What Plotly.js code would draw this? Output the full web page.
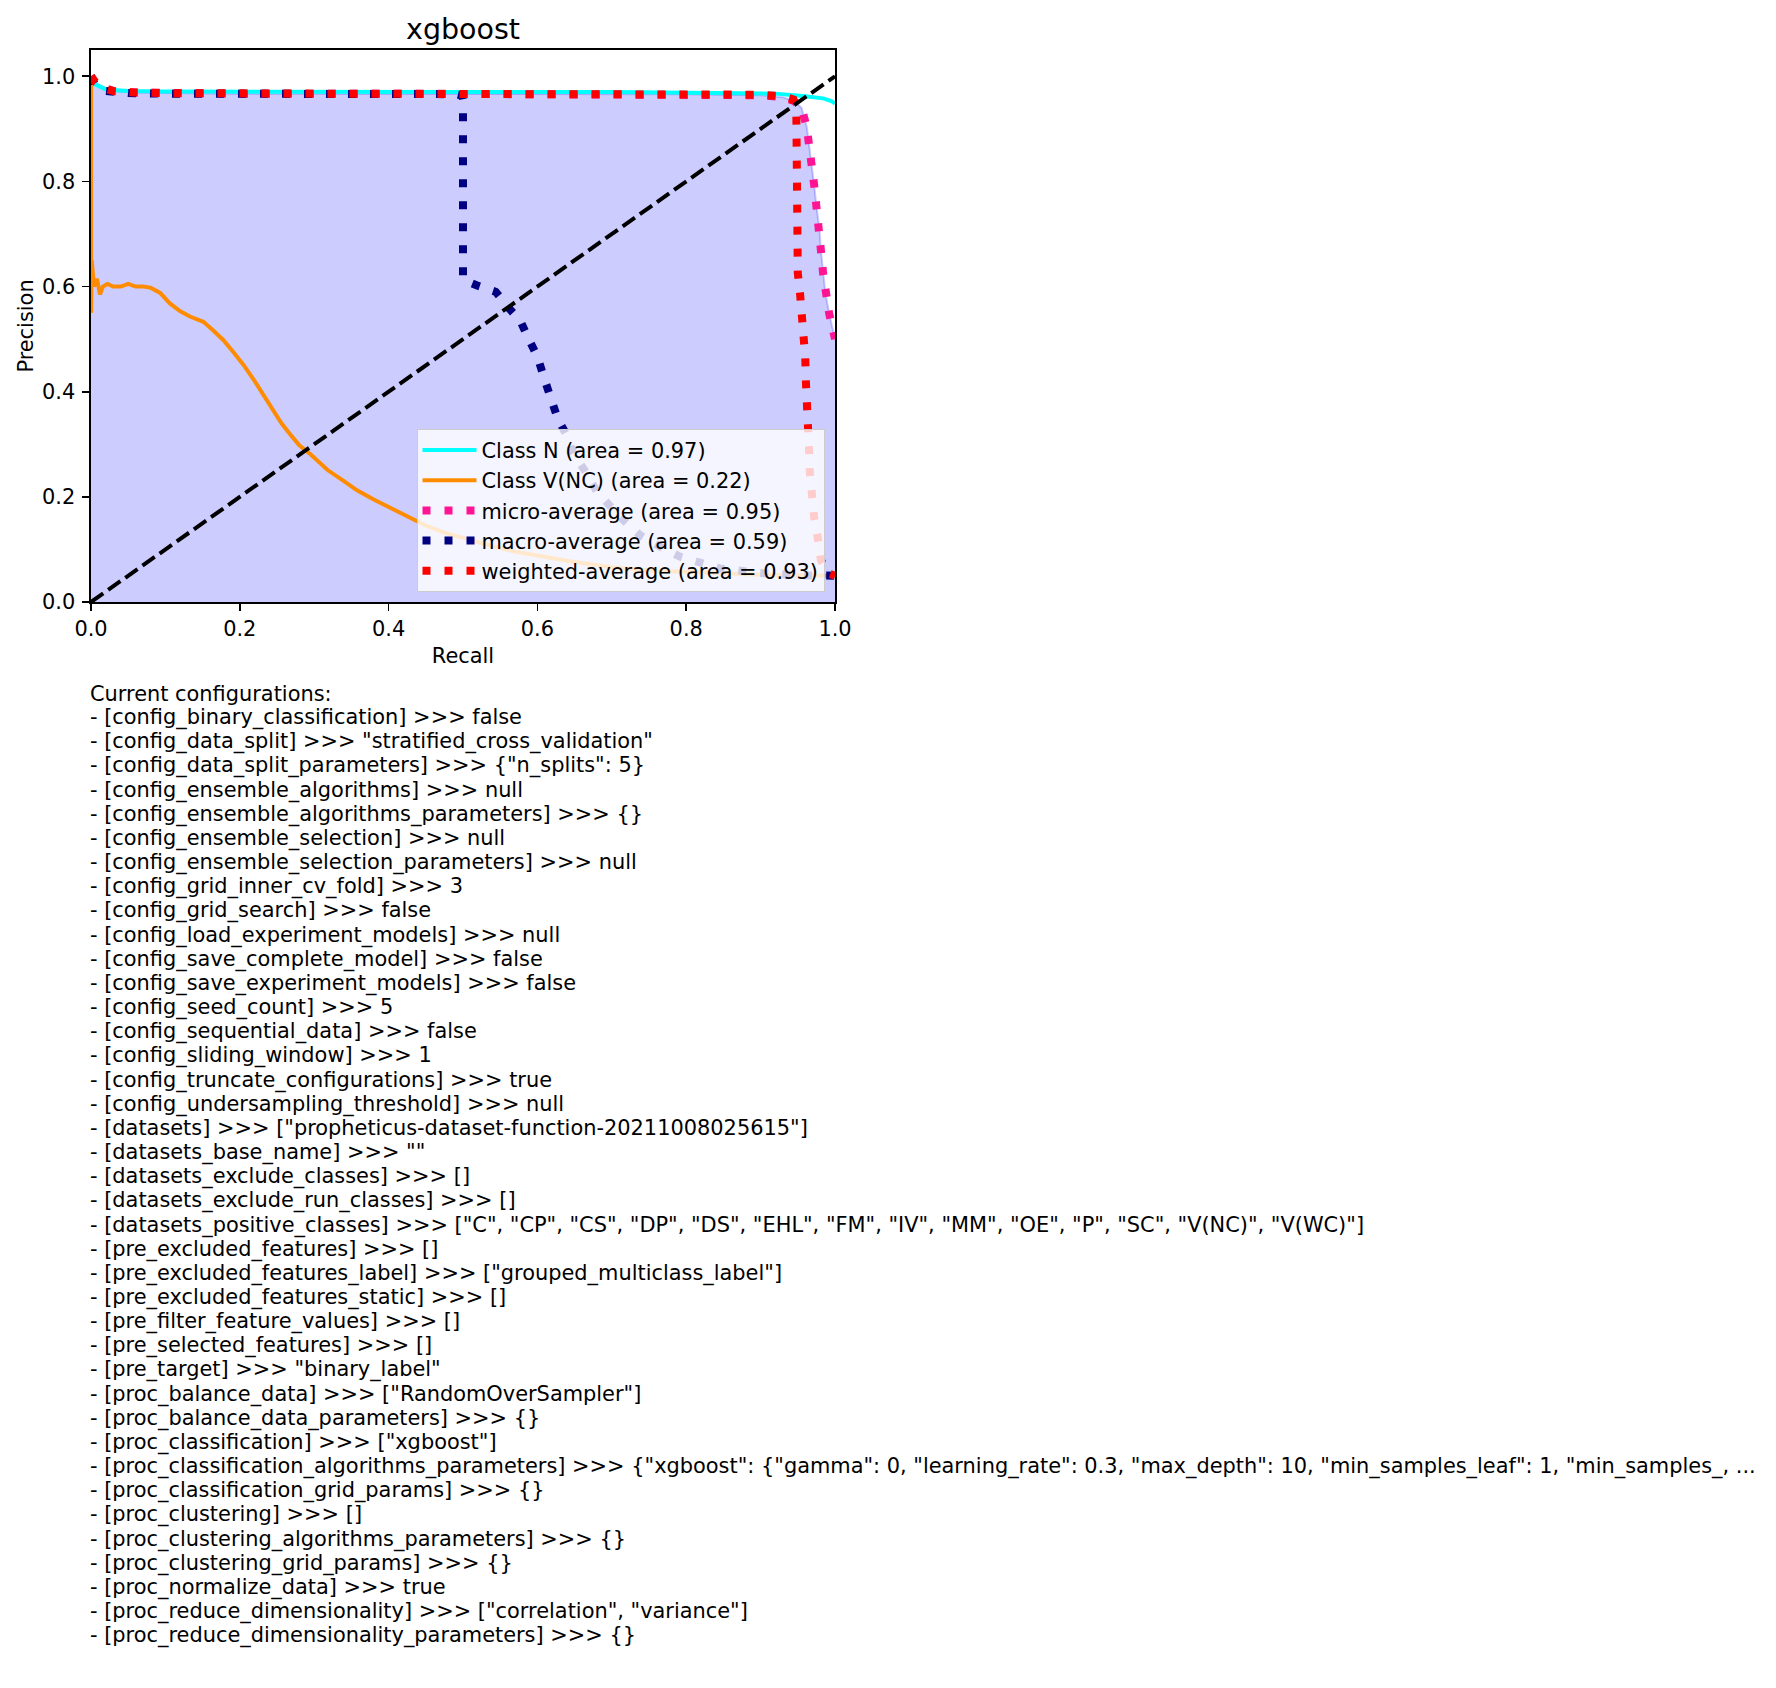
<!DOCTYPE html>
<html>
<head>
<meta charset="utf-8">
<script src="https://cdn.plot.ly/plotly-3.0.1.min.js"></script>
<style>
html, body { margin: 0; padding: 0; background: #ffffff; }
#chart { width: 1776px; height: 1688px; }
</style>
</head>
<body>
<div id="chart"></div>
<script>
// ---------------- data ----------------
const chartTitle = 'xgboost';
const xTitle = 'Recall';
const yTitle = 'Precision';
const xTicks = [0.0, 0.2, 0.4, 0.6, 0.8, 1.0];
const yTicks = [0.0, 0.2, 0.4, 0.6, 0.8, 1.0];

const labelN = 'Class N (area = 0.97)';
const recallN    = [0, 0.005, 0.02, 0.05, 0.1, 0.3, 0.5, 0.7, 0.85, 0.92, 0.957, 0.984, 0.995, 1.0];
const precisionN = [1.0, 0.985, 0.975, 0.972, 0.971, 0.970, 0.970, 0.970, 0.969, 0.967, 0.9625, 0.958, 0.953, 0.948];

const labelVNC = 'Class V(NC) (area = 0.22)';
const recallVNC = [0, 0, 0.001, 0.004, 0.008, 0.012, 0.016, 0.022, 0.03, 0.04, 0.05, 0.06, 0.07, 0.08, 0.093, 0.106, 0.12, 0.133, 0.151, 0.164, 0.178, 0.191, 0.205, 0.22, 0.233, 0.245, 0.256, 0.27, 0.28, 0.295, 0.31, 0.318, 0.34, 0.357, 0.38, 0.403, 0.425, 0.449, 0.475, 0.5, 0.54, 0.573, 0.61, 0.65, 0.7, 0.75, 0.805, 0.85, 0.9, 0.95, 1.0];
const precisionVNC = [1.0, 0.55, 0.65, 0.60, 0.615, 0.585, 0.60, 0.605, 0.60, 0.60, 0.605, 0.60, 0.60, 0.598, 0.588, 0.568, 0.553, 0.543, 0.533, 0.517, 0.498, 0.476, 0.451, 0.42, 0.391, 0.365, 0.34, 0.315, 0.298, 0.281, 0.26, 0.251, 0.23, 0.213, 0.195, 0.179, 0.162, 0.146, 0.132, 0.122, 0.106, 0.095, 0.085, 0.076, 0.066, 0.060, 0.057, 0.054, 0.052, 0.051, 0.050];

const labelMicro = 'micro-average (area = 0.95)';
const recallMicro    = [0, 0.005, 0.015, 0.03, 0.06, 0.1, 0.2, 0.4, 0.6, 0.8, 0.9, 0.93, 0.945, 0.955, 0.962, 0.966, 0.969, 0.972, 0.975, 0.979, 0.981, 0.984, 0.987, 0.992, 1.0];
const precisionMicro = [1.0, 0.99, 0.98, 0.972, 0.969, 0.968, 0.967, 0.967, 0.967, 0.966, 0.964, 0.96, 0.953, 0.94, 0.904, 0.86, 0.835, 0.793, 0.752, 0.711, 0.67, 0.625, 0.588, 0.55, 0.5];

const labelMacro = 'macro-average (area = 0.59)';
const recallMacro    = [0, 0.005, 0.02, 0.05, 0.1, 0.3, 0.49, 0.499, 0.5, 0.5, 0.505, 0.519, 0.544, 0.561, 0.577, 0.588, 0.6, 0.609, 0.618, 0.627, 0.639, 0.648, 0.666, 0.68, 0.711, 0.738, 0.765, 0.792, 0.845, 0.899, 0.95, 1.0];
const precisionMacro = [1.0, 0.985, 0.972, 0.968, 0.967, 0.967, 0.966, 0.963, 0.955, 0.615, 0.61, 0.602, 0.59, 0.56, 0.535, 0.501, 0.467, 0.426, 0.388, 0.35, 0.318, 0.283, 0.245, 0.21, 0.162, 0.127, 0.105, 0.086, 0.064, 0.055, 0.051, 0.05];

const labelWeighted = 'weighted-average (area = 0.93)';
const recallWeighted    = [0, 0.005, 0.015, 0.03, 0.06, 0.1, 0.3, 0.5, 0.7, 0.9, 0.93, 0.944, 0.948, 0.948, 0.948, 0.949, 0.95, 0.953, 0.956, 0.958, 0.96, 0.961, 0.963, 0.964, 0.965, 0.966, 0.968, 0.972, 0.977, 0.981, 0.99, 1.0];
const precisionWeighted = [1.0, 0.99, 0.978, 0.972, 0.969, 0.968, 0.967, 0.967, 0.967, 0.965, 0.962, 0.956, 0.935, 0.9, 0.8, 0.7, 0.626, 0.587, 0.547, 0.507, 0.466, 0.416, 0.378, 0.336, 0.294, 0.25, 0.205, 0.16, 0.12, 0.08, 0.055, 0.05];

const diagX = [0, 1];
const diagY = [0, 1];

const configLines = [
  'Current configurations:',
  '- [config_binary_classification] >>> false',
  '- [config_data_split] >>> "stratified_cross_validation"',
  '- [config_data_split_parameters] >>> {"n_splits": 5}',
  '- [config_ensemble_algorithms] >>> null',
  '- [config_ensemble_algorithms_parameters] >>> {}',
  '- [config_ensemble_selection] >>> null',
  '- [config_ensemble_selection_parameters] >>> null',
  '- [config_grid_inner_cv_fold] >>> 3',
  '- [config_grid_search] >>> false',
  '- [config_load_experiment_models] >>> null',
  '- [config_save_complete_model] >>> false',
  '- [config_save_experiment_models] >>> false',
  '- [config_seed_count] >>> 5',
  '- [config_sequential_data] >>> false',
  '- [config_sliding_window] >>> 1',
  '- [config_truncate_configurations] >>> true',
  '- [config_undersampling_threshold] >>> null',
  '- [datasets] >>> ["propheticus-dataset-function-20211008025615"]',
  '- [datasets_base_name] >>> ""',
  '- [datasets_exclude_classes] >>> []',
  '- [datasets_exclude_run_classes] >>> []',
  '- [datasets_positive_classes] >>> ["C", "CP", "CS", "DP", "DS", "EHL", "FM", "IV", "MM", "OE", "P", "SC", "V(NC)", "V(WC)"]',
  '- [pre_excluded_features] >>> []',
  '- [pre_excluded_features_label] >>> ["grouped_multiclass_label"]',
  '- [pre_excluded_features_static] >>> []',
  '- [pre_filter_feature_values] >>> []',
  '- [pre_selected_features] >>> []',
  '- [pre_target] >>> "binary_label"',
  '- [proc_balance_data] >>> ["RandomOverSampler"]',
  '- [proc_balance_data_parameters] >>> {}',
  '- [proc_classification] >>> ["xgboost"]',
  '- [proc_classification_algorithms_parameters] >>> {"xgboost": {"gamma": 0, "learning_rate": 0.3, "max_depth": 10, "min_samples_leaf": 1, "min_samples_, ...',
  '- [proc_classification_grid_params] >>> {}',
  '- [proc_clustering] >>> []',
  '- [proc_clustering_algorithms_parameters] >>> {}',
  '- [proc_clustering_grid_params] >>> {}',
  '- [proc_normalize_data] >>> true',
  '- [proc_reduce_dimensionality] >>> ["correlation", "variance"]',
  '- [proc_reduce_dimensionality_parameters] >>> {}'
];

// ---------------- layout geometry ----------------
const W = 1776, H = 1688;
const M = { l: 91, r: 941, t: 50, b: 1086 };
const plotW = W - M.l - M.r;   // 744
const plotH = H - M.t - M.b;   // 552
const FONT = 'DejaVu Sans, Liberation Sans, sans-serif';
const fs = 20.9;

function pxToPaperY(py) { return (H - M.b - py) / plotH; }
function pxToPaperX(px) { return (px - M.l) / plotW; }

const dotDash = '8px,14px';

const traces = [
  { // shaded area under micro-average
    x: recallMicro, y: precisionMicro, type: 'scatter', mode: 'lines',
    fill: 'tozeroy', fillcolor: 'rgba(0,0,255,0.2)',
    line: { color: 'rgba(0,0,255,0.2)', width: 2 },
    showlegend: false, hoverinfo: 'skip'
  },
  { x: recallN, y: precisionN, type: 'scatter', mode: 'lines', name: labelN,
    line: { color: '#00ffff', width: 4 } },
  { x: recallVNC, y: precisionVNC, type: 'scatter', mode: 'lines', name: labelVNC,
    line: { color: '#ff8c00', width: 4 } },
  { x: recallMicro, y: precisionMicro, type: 'scatter', mode: 'lines', name: labelMicro,
    line: { color: '#ff1493', width: 8, dash: dotDash } },
  { x: recallMacro, y: precisionMacro, type: 'scatter', mode: 'lines', name: labelMacro,
    line: { color: '#000080', width: 8, dash: dotDash } },
  { x: recallWeighted, y: precisionWeighted, type: 'scatter', mode: 'lines', name: labelWeighted,
    line: { color: '#ff0000', width: 8, dash: dotDash } },
  { x: diagX, y: diagY, type: 'scatter', mode: 'lines', showlegend: false,
    line: { color: '#000000', width: 4, dash: '15px,6px' } }
];

const annotations = configLines.map((t, i) => ({
  xref: 'paper', yref: 'paper',
  x: pxToPaperX(90), y: pxToPaperY(693.5 + 24.16 * i),
  xanchor: 'left', yanchor: 'middle',
  text: t, showarrow: false, align: 'left',
  borderpad: 0, borderwidth: 0,
  font: { family: FONT, size: fs, color: '#000000' }
}));

const axisCommon = {
  showline: true, mirror: true, linecolor: '#000000', linewidth: 1.6,
  ticks: 'outside', ticklen: 7, tickwidth: 1.6, tickcolor: '#000000',
  showgrid: false, zeroline: false, automargin: false,
  tickfont: { family: FONT, size: fs, color: '#000000' },
  tickformat: '.1f', fixedrange: true
};

const layout = {
  width: W, height: H,
  margin: M,
  paper_bgcolor: '#ffffff', plot_bgcolor: '#ffffff',
  font: { family: FONT, size: fs, color: '#000000' },
  title: {
    text: chartTitle, x: 0.5, xref: 'paper', xanchor: 'center',
    y: 1 - 29 / H, yref: 'container', yanchor: 'middle',
    font: { family: FONT, size: 28.5, color: '#000000' }
  },
  xaxis: Object.assign({}, axisCommon, {
    range: [0, 1], tickmode: 'array', tickvals: xTicks,
    title: { text: xTitle, standoff: 8, font: { family: FONT, size: fs, color: '#000000' } }
  }),
  yaxis: Object.assign({}, axisCommon, {
    range: [0, 1.05], tickmode: 'array', tickvals: yTicks, ticklabelstandoff: 3,
    title: { text: yTitle, standoff: 2, font: { family: FONT, size: fs, color: '#000000' } }
  }),
  legend: {
    x: pxToPaperX(824.5), xanchor: 'right',
    y: pxToPaperY(592), yanchor: 'bottom',
    bgcolor: 'rgba(255,255,255,0.8)', bordercolor: '#cccccc', borderwidth: 1,
    font: { family: FONT, size: fs, color: '#000000' },
    traceorder: 'normal', itemwidth: 54
  },
  annotations: annotations,
  showlegend: true
};

Plotly.newPlot('chart', traces, layout, { staticPlot: true, displayModeBar: false });
</script>
</body>
</html>
